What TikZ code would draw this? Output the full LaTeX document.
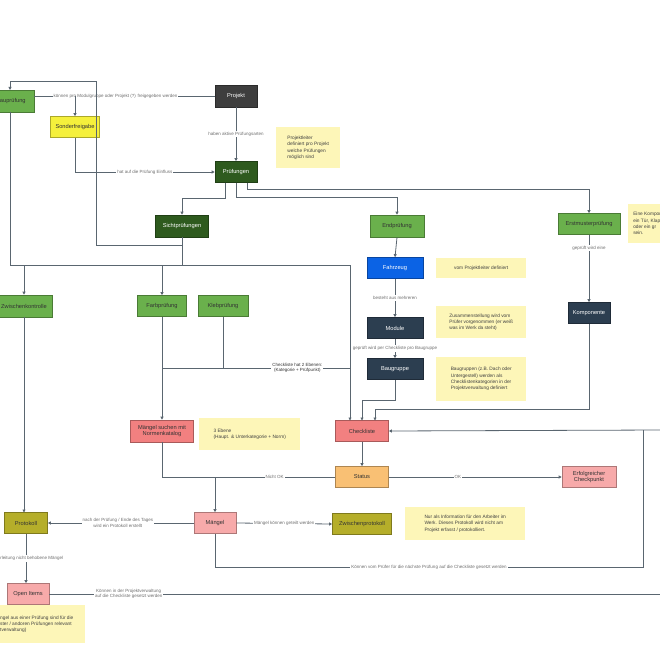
\documentclass[tikz,border=0pt]{standalone}
\usepackage{fontspec}
\setmainfont{Liberation Sans}
\usetikzlibrary{arrows.meta}
\definecolor{lgreen}{HTML}{6AB04C}
\definecolor{dgreen}{HTML}{2E5A1E}
\definecolor{pgray}{HTML}{3E3E3E}
\definecolor{fblue}{HTML}{0B63E5}
\definecolor{slate}{HTML}{2C3E50}
\definecolor{redb}{HTML}{F28080}
\definecolor{pinkb}{HTML}{F7AAAA}
\definecolor{orab}{HTML}{F9C074}
\definecolor{olive}{HTML}{B5AE2A}
\definecolor{yelb}{HTML}{F5F03C}
\definecolor{notec}{HTML}{FDF6B8}
\definecolor{linec}{HTML}{5A6670}
\definecolor{lblc}{HTML}{6E6E6E}
\tikzset{
 box/.style={draw=#1!70!black, line width=0.6pt, minimum height=22pt, inner sep=1pt, align=center, font=\fontsize{5.7}{6.7}\selectfont},
 wt/.style={text=white},
 dk/.style={text=black!80},
 note/.style={fill=notec, draw=none, align=left, anchor=north west, inner sep=5pt, font=\fontsize{4.8}{6.3}\selectfont, text=black!75},
 con/.style={draw=linec, line width=0.8pt},
 arr/.style={con, -{Triangle[length=3pt,width=3pt]}},
 lbl/.style={fill=white, inner sep=1pt, font=\fontsize{4.5}{5.5}\selectfont, text=lblc, align=center},
}
\begin{document}
\begin{tikzpicture}[x=1pt,y=-1pt]
\useasboundingbox (0,0) rectangle (660,650);
\clip (0,0) rectangle (660,650);
% nodes
\node[box=lgreen, fill=lgreen, dk, minimum width=56pt] (roh) at (6,101) {Rohbauprüfung};
\node[box=pgray, fill=pgray, wt, minimum width=42pt] (proj) at (236,96) {Projekt};
\node[box=yelb, fill=yelb, dk, minimum width=49pt, minimum height=21pt] (sond) at (75,127) {Sonderfreigabe};
\node[box=dgreen, fill=dgreen, wt, minimum width=42pt, minimum height=21pt] (pruef) at (236,172) {Prüfungen};
\node[box=dgreen, fill=dgreen, wt, minimum width=53pt] (sicht) at (182,226) {Sichtprüfungen};
\node[box=lgreen, fill=lgreen, dk, minimum width=54pt] (endp) at (397,226) {Endprüfung};
\node[box=lgreen, fill=lgreen, dk, minimum width=62pt, minimum height=21pt] (erst) at (589,224) {Erstmusterprüfung};
\node[box=fblue, fill=fblue, wt, minimum width=56pt, minimum height=21pt] (fahr) at (395,268) {Fahrzeug};
\node[box=slate, fill=slate, wt, minimum width=56pt, minimum height=21pt] (mod) at (395,328) {Module};
\node[box=slate, fill=slate, wt, minimum width=56pt, minimum height=21pt] (baug) at (395,369) {Baugruppe};
\node[box=slate, fill=slate, wt, minimum width=42pt, minimum height=21pt] (komp) at (589,313) {Komponente};
\node[box=lgreen, fill=lgreen, dk, minimum width=56pt] (zwk) at (24,306) {Zwischenkontrolle};
\node[box=lgreen, fill=lgreen, dk, minimum width=49pt, minimum height=21pt] (farb) at (162,306) {Farbprüfung};
\node[box=lgreen, fill=lgreen, dk, minimum width=50pt, minimum height=21pt] (kleb) at (223,306) {Klebprüfung};
\node[box=redb, fill=redb, dk, minimum width=63pt] (msuch) at (162,431) {Mängel suchen mit\\Normenkatalog};
\node[box=redb, fill=redb, dk, minimum width=53pt, minimum height=21pt] (check) at (362,431) {Checkliste};
\node[box=orab, fill=orab, dk, minimum width=53pt, minimum height=21pt] (stat) at (362,477) {Status};
\node[box=pinkb, fill=pinkb, dk, minimum width=54pt, minimum height=21pt] (erf) at (589,477) {Erfolgreicher\\Checkpunkt};
\node[box=olive, fill=olive, dk, minimum width=43pt, minimum height=21pt] (prot) at (26,523) {Protokoll};
\node[box=pinkb, fill=pinkb, dk, minimum width=42pt, minimum height=21pt] (mang) at (215,523) {Mängel};
\node[box=olive, fill=olive, dk, minimum width=59pt, minimum height=21pt] (zwp) at (362,524) {Zwischenprotokoll};
\node[box=pinkb, fill=pinkb, dk, minimum width=42pt, minimum height=21pt] (open) at (28,594) {Open Items};
% notes
\node[note, minimum width=64pt, minimum height=41pt] (n1) at (276,127) {Projektleiter\\definiert pro Projekt\\welche Prüfungen\\möglich sind};
\node[note, minimum width=90pt, minimum height=20pt] (n2) at (436,258) {vom Projektleiter definiert};
\node[note, minimum width=90pt, minimum height=32pt] (n3) at (436,306) {Zusammenstellung wird vom\\Prüfer vorgenommen (er weiß\\was im Werk da steht)};
\node[note, minimum width=90pt, minimum height=44pt] (n4) at (436,357) {Baugruppen (z.B. Dach oder\\Untergestell) werden als\\Checklistenkategorien in der\\Projektverwaltung definiert};
\node[note, minimum width=60pt, minimum height=39pt] (n5) at (628,204) {Eine Komponente kann\\ein Tür, Klappe\\oder ein gr\\sein.};
\node[note, minimum width=101pt, minimum height=32pt] (n6) at (199,418) {3 Ebene\\(Haupt. \& Unterkategorie + Norm)};
\node[note, minimum width=120pt, minimum height=33pt] (n7) at (405,507) {Nur als Information für den Arbeiter im\\Werk. Dieses Protokoll wird nicht am\\Projekt erfasst / protokolliert.};
\node[note, minimum width=112pt, minimum height=38pt] (n8) at (-27,605) {Die Mängel aus einer Prüfung sind für die\\Erstmuster / andoren Prüfungen relevant\\(Projektverwaltung)};
% coordinates
\coordinate (rb) at (10,265);
\coordinate (cr) at (660,430);
\coordinate (oe) at (660,594);
% connectors top
\draw[con] (proj.west) -- node[lbl, pos=0.55]{können pro Modulgruppe oder Projekt (?) freigegeben werden} (roh.east |- proj.west);
\draw[arr] (75,96) -- (sond.north);
\draw[arr] (96,245) -- (96,81) -- (10,81) -- (10,90);
\draw[arr] (proj.south) -- node[lbl]{haben aktive Prüfungsarten} (pruef.north);
\draw[arr] (sond.south) -- (75,172) -- node[lbl]{hat auf die Prüfung Einfluss} (pruef.west);
\draw[arr] (225,182.5) -- (225,198) -- (182,198) -- (sicht.north);
\draw[arr] (236,182.5) -- (236,197) -- (397,197) -- (endp.north);
\draw[arr] (247,182.5) -- (247,189) -- (589,189) -- (erst.north);
\draw[con] (sicht.south) -- (182,265);
\draw[con] (96,245) -- (182,245);
\draw[arr] (10,112) -- (rb) -- (350,265) -- (350,420.5);
\draw[arr] (24,265) -- (zwk.north);
\draw[arr] (162,265) -- (farb.north);
\draw[arr] (farb.south) -- (msuch.north);
\draw[con] (kleb.south) -- (223,368) -- (162,368);
\draw[con] (162,368) -- node[lbl, text=black!80, pos=0.72]{Checkliste hat 2 Ebenen:\\(Kategorie + Prüfpunkt)} (350,368);
% right column
\draw[arr] (endp.south) -- (fahr.north);
\draw[arr] (fahr.south) -- node[lbl]{besteht aus mehreren} (mod.north);
\draw[arr] (mod.south) -- node[lbl]{geprüft wird per Checkliste pro Baugruppe} (baug.north);
\draw[arr] (erst.south) -- node[lbl, pos=0.2]{geprüft wird eine} (komp.north);
\draw[arr] (baug.south) -- (395,400) -- (362,400) -- (362,420.5);
\draw[arr] (komp.south) -- (589,409) -- (375,409) -- (375,420.5);
\draw[arr] (cr) -- (check.east);
\draw[con] (643,430) -- (643,567) -- node[lbl, pos=0.5]{Können vom Prüfer für die nächste Prüfung auf die Checkliste gesetzt werden} (215,567) -- (mang.south);
% status
\draw[arr] (check.south) -- (stat.north);
\draw[arr] (stat.east) -- node[lbl, pos=0.4]{OK} (erf.west);
\draw[con] (stat.west) -- node[lbl, pos=0.35]{Nicht OK} (162,477) -- (msuch.south);
\draw[arr] (215,477) -- (mang.north);
% bottom
\draw[arr] (mang.west) -- node[lbl, pos=0.52]{nach der Prüfung / Ende des Tages\\wird ein Protokoll erstellt} (prot.east);
\draw[arr] (mang.east) -- node[lbl]{Mängel können geteilt werden} (zwp.west);
\draw[arr] (24,317) -- (24,512.5);
\draw[arr] (prot.south) -- node[lbl]{Weiterleitung nicht behobene Mängel} (open.north -| prot.south);
\draw[con] (open.east) -- node[lbl, pos=0.13]{Können in der Projektverwaltung\\auf die Checkliste gesetzt werden} (oe);
\end{tikzpicture}
\end{document}
